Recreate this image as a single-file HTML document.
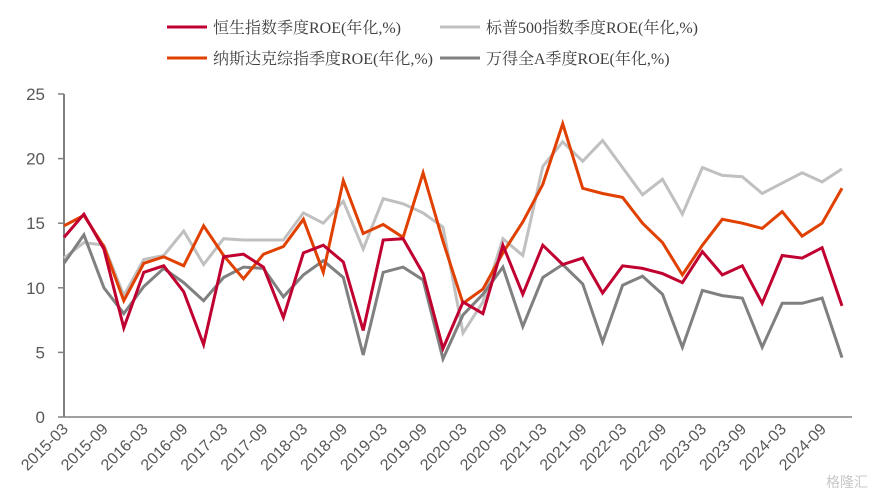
<!DOCTYPE html>
<html><head><meta charset="utf-8"><style>
body{margin:0;background:#fff;}
svg{display:block;font-family:"Liberation Sans","Noto Sans CJK SC",sans-serif;}
</style></head><body>
<svg id="chart" width="879" height="498" xmlns="http://www.w3.org/2000/svg">
<g id="legend"></g>
<g id="axes"></g>
<g id="series"></g>
<text x="868" y="487" text-anchor="end" font-size="14" fill="#c8c8c8">格隆汇</text>
</svg>
<script>
const categories = [];
for (let y = 2015; y <= 2024; y++) for (const m of ["03","06","09","12"]) categories.push(y + "-" + m);
const hsi = [13.9,15.7,13.0,6.9,11.2,11.7,9.7,5.6,12.4,12.6,11.6,7.7,12.7,13.3,12.0,6.7,13.7,13.8,11.1,5.3,8.9,8.0,13.3,9.5,13.3,11.8,12.3,9.6,11.7,11.5,11.1,10.4,12.8,11.0,11.7,8.8,12.5,12.3,13.1,8.6];
const spx = [12.3,13.5,13.3,9.4,12.2,12.5,14.4,11.8,13.8,13.7,13.7,13.7,15.8,15.0,16.7,13.0,16.9,16.5,15.8,14.7,6.5,8.9,13.8,12.5,19.4,21.3,19.8,21.4,19.3,17.2,18.4,15.7,19.3,18.7,18.6,17.3,18.1,18.9,18.2,19.2];
const ndx = [14.8,15.6,13.2,9.0,11.9,12.4,11.7,14.8,12.5,10.7,12.6,13.2,15.3,11.2,18.3,14.2,14.9,13.9,18.9,13.6,8.8,9.9,12.7,15.1,18.0,22.7,17.7,17.3,17.0,15.0,13.5,11.0,13.3,15.3,15.0,14.6,15.9,14.0,15.0,17.7];
const winda = [11.9,14.1,10.0,8.0,10.1,11.5,10.4,9.0,10.8,11.6,11.5,9.3,11.0,12.1,10.8,4.8,11.2,11.6,10.6,4.5,7.9,9.5,11.6,7.0,10.8,11.8,10.3,5.8,10.2,10.9,9.5,5.4,9.8,9.4,9.2,5.4,8.8,8.8,9.2,4.6];
const yTicks = [0,5,10,15,20,25];
const seriesNames = ["恒生指数季度ROE(年化,%)","标普500指数季度ROE(年化,%)","纳斯达克综指季度ROE(年化,%)","万得全A季度ROE(年化,%)"];

const NS="http://www.w3.org/2000/svg";
const x0=64, x1=842, yBase=417, yTop=94;
const xScale=i=>x0+i*(x1-x0)/(categories.length-1);
const yScale=v=>yBase-v*(yBase-yTop)/25;
function mk(tag,attrs,parent){const e=document.createElementNS(NS,tag);for(const k in attrs)e.setAttribute(k,attrs[k]);parent.appendChild(e);return e;}
const axes=document.getElementById('axes');
let a=mk('line',{x1:x0,y1:yScale(25),x2:x0,y2:yBase,stroke:'#808080','stroke-width':2},axes);


a=mk('line',{x1:x0,y1:yBase,x2:x1+10,y2:yBase,stroke:'#808080','stroke-width':1.5},axes);


yTicks.forEach(v=>{
  const t=mk('line',{x1:x0-6,y1:yScale(v),x2:x0,y2:yScale(v),stroke:'#808080','stroke-width':1.5},axes);
  
  
  const l=mk('text',{x:45,y:yScale(v)+6,'text-anchor':'end','font-size':17,fill:'#595959'},axes);
  
  
  l.textContent=v;
});
categories.forEach((c,i)=>{
  if(i%2!==0)return;
  const x=xScale(i);
  const l=mk('text',{x:x+5,y:yBase+13,'text-anchor':'end','font-size':16,fill:'#595959',transform:`rotate(-45 ${x+5} ${yBase+13})`},axes);
  
  
  l.textContent=c;
});
const colors=['#c00030','#c0c0c0','#e04000','#808080'];
const data=[hsi,spx,ndx,winda];
const order=[1,3,2,0];
const sg=document.getElementById('series');
order.forEach(k=>{
  const p=mk('polyline',{points:data[k].map((v,i)=>xScale(i).toFixed(1)+','+yScale(v).toFixed(1)).join(' '),fill:'none',stroke:colors[k],'stroke-width':3,'stroke-linejoin':'miter'},sg);
  
  
});
const lg=document.getElementById('legend');
const pos=[[167,27],[440,27],[167,58],[440,58]];
seriesNames.forEach((n,k)=>{
  const [x,y]=pos[k];
  const ln=mk('line',{x1:x,y1:y,x2:x+40,y2:y,stroke:colors[k],'stroke-width':3},lg);
  
  
  const t=mk('text',{x:x+46,y:y+6,'font-size':16,fill:'#404040','font-family':'"Liberation Serif","Noto Serif CJK SC",serif'},lg);
  
  
  t.textContent=n;
});
</script>
</body></html>
